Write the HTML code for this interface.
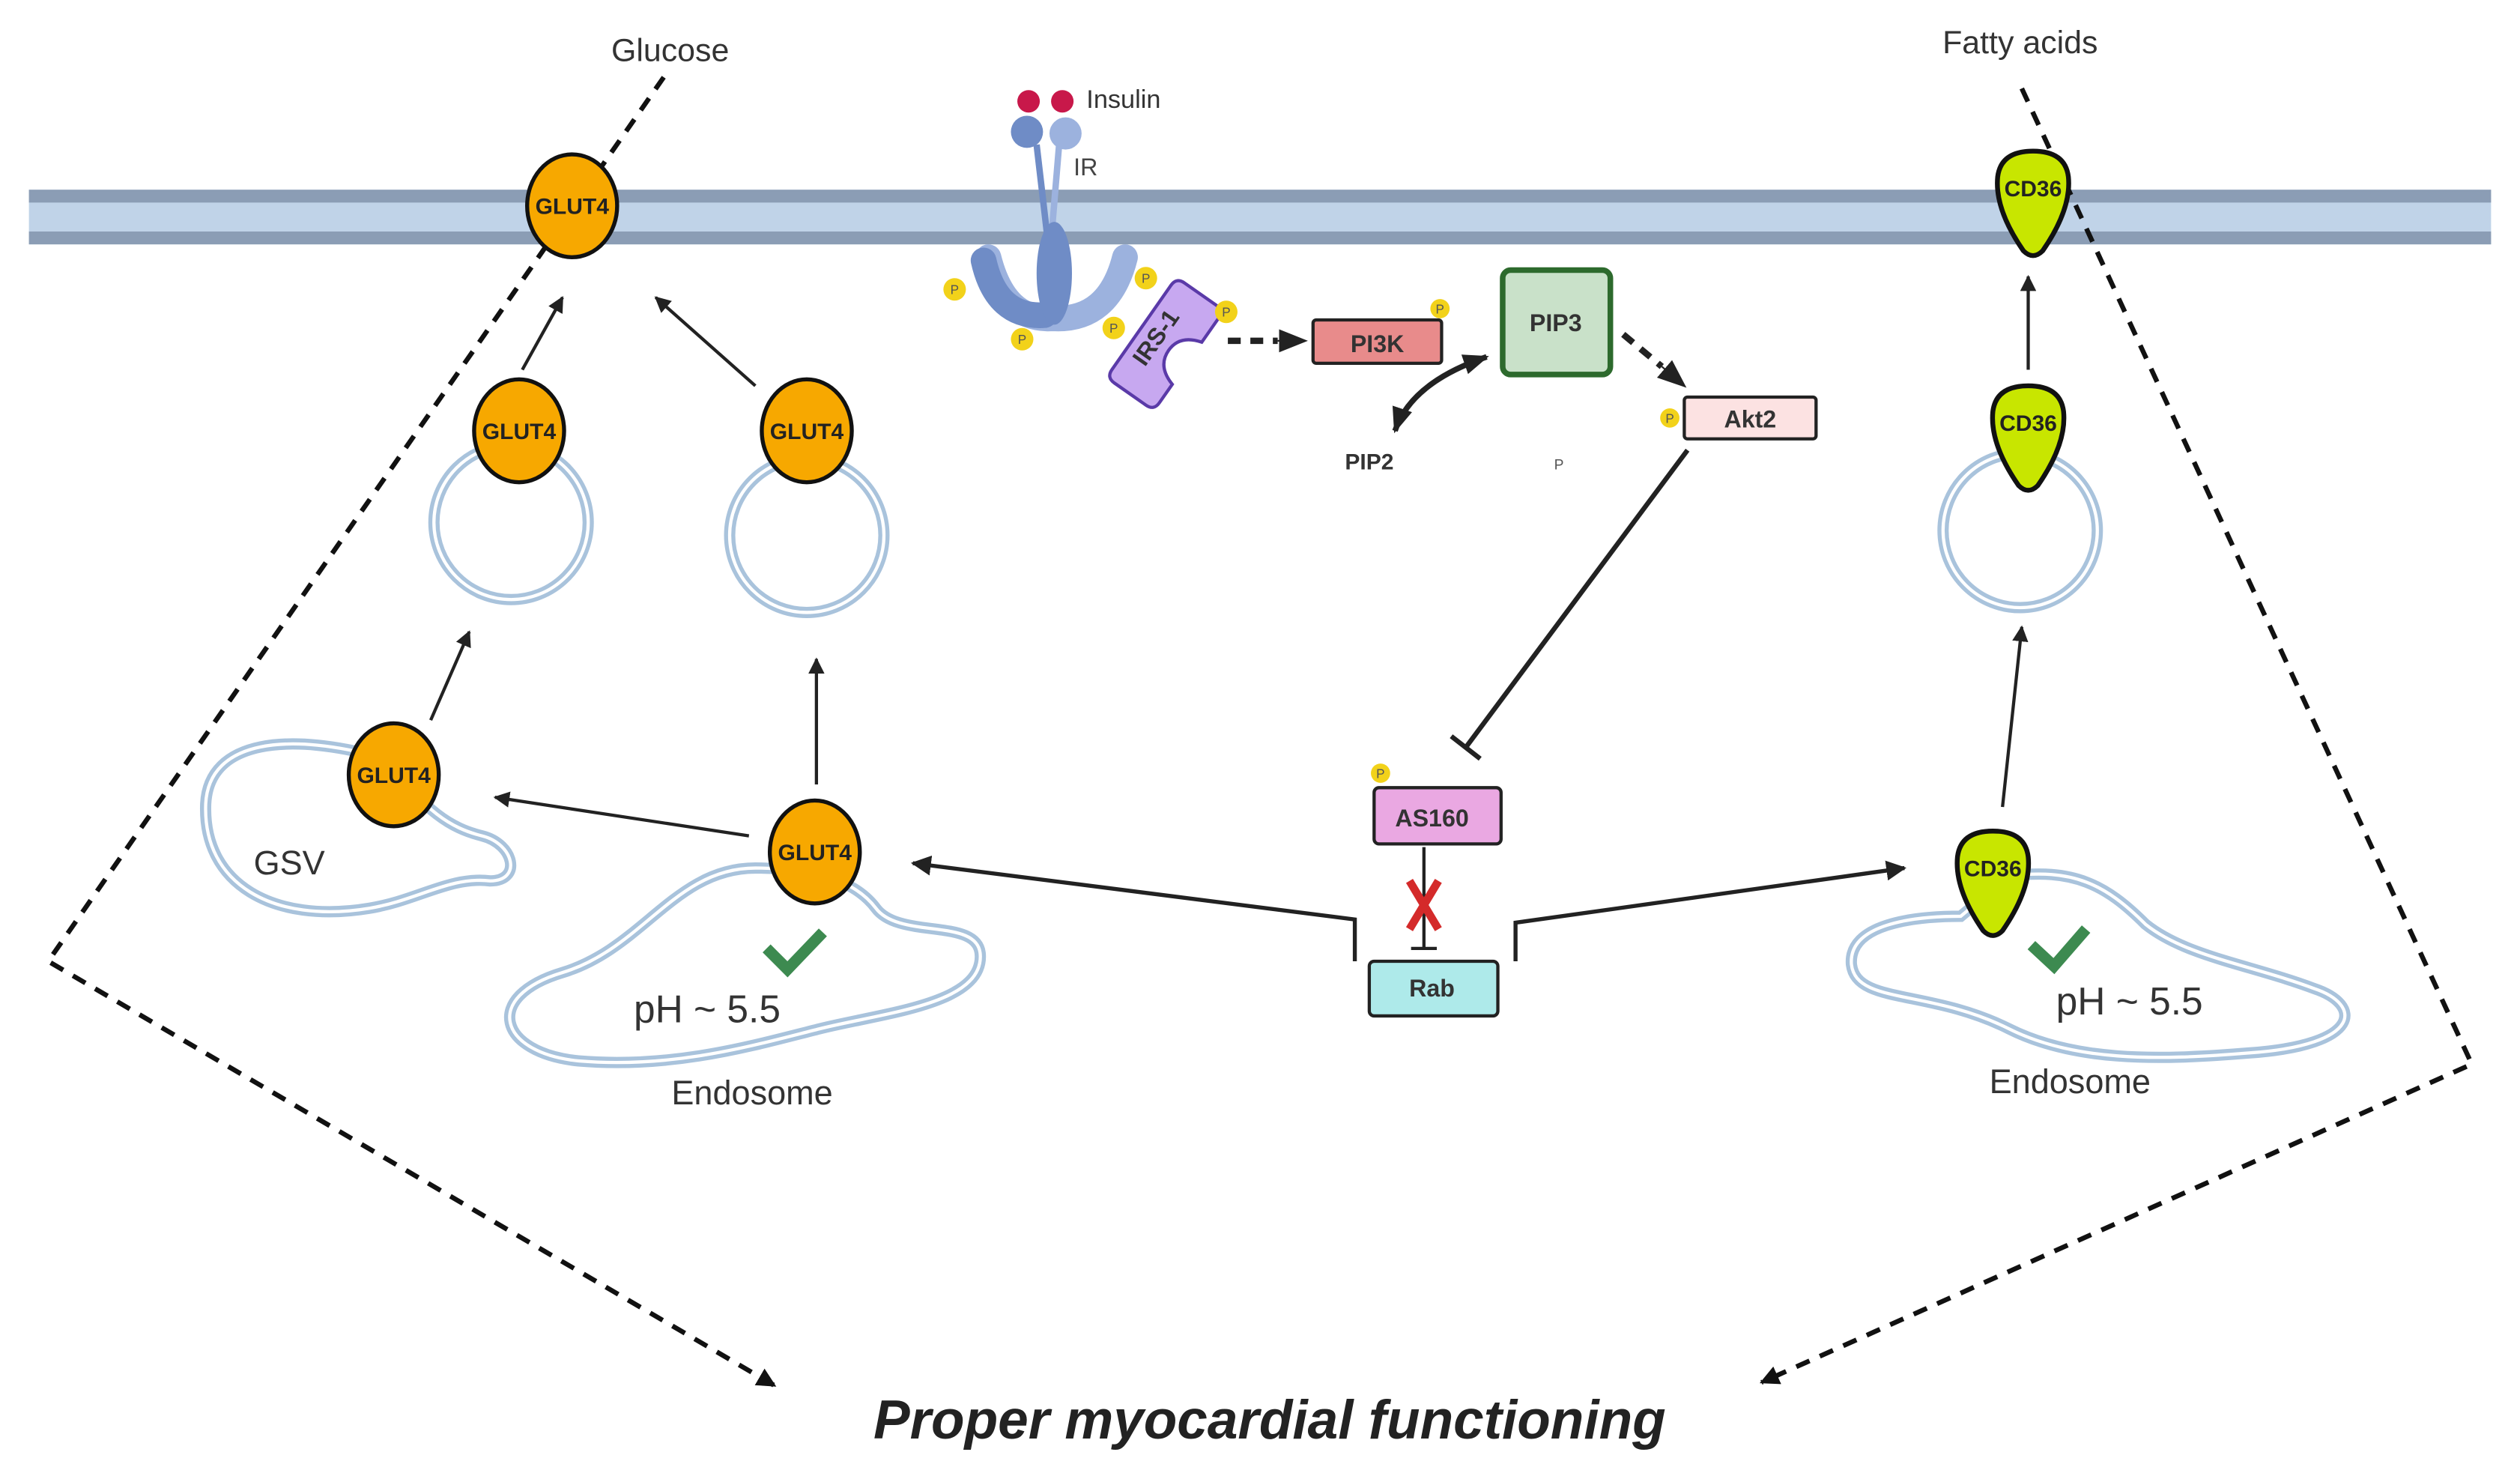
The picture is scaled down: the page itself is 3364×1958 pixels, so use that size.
<!DOCTYPE html>
<html><head><meta charset="utf-8"><style>html,body{margin:0;padding:0;background:#fff}svg{display:block}</style></head>
<body>
<svg width="3364" height="1958" viewBox="0 0 1568 912.6" xmlns="http://www.w3.org/2000/svg" font-family="Liberation Sans, sans-serif">
<defs>
<marker id="ah" viewBox="0 0 10 10" refX="9" refY="5" markerWidth="5" markerHeight="5" orient="auto"><path d="M0,0L10,5L0,10z" fill="#222"/></marker>
<marker id="ahb" viewBox="0 0 10 10" refX="9" refY="5" markerWidth="4" markerHeight="4" orient="auto"><path d="M0,0L10,5L0,10z" fill="#111"/></marker>
<marker id="ahs" viewBox="0 0 10 10" refX="9" refY="5" markerUnits="userSpaceOnUse" markerWidth="18" markerHeight="18" orient="auto"><path d="M0,1L10,5L0,9z" fill="#222"/></marker>
<marker id="ahs2" viewBox="0 0 10 10" refX="9" refY="5" markerUnits="userSpaceOnUse" markerWidth="16" markerHeight="16" orient="auto-start-reverse"><path d="M0,1L10,5L0,9z" fill="#222"/></marker>
<g id="glut"><ellipse cx="0" cy="0" rx="28" ry="32" fill="#f7a800" stroke="#111" stroke-width="2.5"/><text x="0" y="5" font-size="14" font-weight="bold" text-anchor="middle" fill="#222">GLUT4</text></g>
<g id="cd"><path d="M-22,-16 Q-20,-32 0,-32 Q20,-32 22,-16 Q24,4 6,30 Q0,36 -6,30 Q-24,4 -22,-16Z" fill="#c8e600" stroke="#111" stroke-width="3"/><text x="0" y="-4" font-size="14" font-weight="bold" text-anchor="middle" fill="#222">CD36</text></g>
</defs>
<rect x="18" y="118" width="1532" height="34" fill="#c0d3e8"/>
<rect x="18" y="118" width="1532" height="8" fill="#8b9db5"/>
<rect x="18" y="144" width="1532" height="8" fill="#8b9db5"/>
<g fill="none" stroke="#111" stroke-width="3" stroke-dasharray="9,7">
<path d="M413,48 L30,598 L482,862" marker-end="url(#ahb)"/>
<path d="M1258,55 L1538,662 L1096,860" marker-end="url(#ahb)"/>
</g>
<text x="417" y="38" font-size="20" text-anchor="middle" fill="#333">Glucose</text>
<text x="1257" y="33" font-size="20" text-anchor="middle" fill="#333">Fatty acids</text>
<text x="790" y="895" font-size="34" font-weight="bold" font-style="italic" text-anchor="middle" fill="#222">Proper myocardial functioning</text>
<g fill="none" stroke="#a9c3dc" stroke-width="7">
<circle cx="318" cy="325" r="48"/><circle cx="502" cy="333" r="48"/><circle cx="1257" cy="330" r="48"/>
<path d="M240,472 C180,455 130,460 128,500 C126,550 170,575 230,565 C260,560 280,545 305,548 C325,548 320,525 300,520 C280,515 265,505 240,472Z"/>
<path d="M470,540 C420,540 400,590 350,605 C300,620 310,655 360,660 C420,665 470,650 510,640 C550,630 610,625 610,595 C610,570 560,585 545,565 C530,545 500,540 470,540Z"/>
<path d="M1220,570 C1190,570 1150,575 1152,600 C1155,625 1200,615 1250,640 C1290,660 1340,660 1400,655 C1470,650 1470,625 1440,615 C1400,600 1360,595 1335,575 C1310,550 1290,540 1250,545 Z"/>
</g>
<g fill="none" stroke="#fff" stroke-width="2">
<circle cx="318" cy="325" r="48"/><circle cx="502" cy="333" r="48"/><circle cx="1257" cy="330" r="48"/>
<path d="M240,472 C180,455 130,460 128,500 C126,550 170,575 230,565 C260,560 280,545 305,548 C325,548 320,525 300,520 C280,515 265,505 240,472Z"/>
<path d="M470,540 C420,540 400,590 350,605 C300,620 310,655 360,660 C420,665 470,650 510,640 C550,630 610,625 610,595 C610,570 560,585 545,565 C530,545 500,540 470,540Z"/>
<path d="M1220,570 C1190,570 1150,575 1152,600 C1155,625 1200,615 1250,640 C1290,660 1340,660 1400,655 C1470,650 1470,625 1440,615 C1400,600 1360,595 1335,575 C1310,550 1290,540 1250,545 Z"/>
</g>
<g stroke="#222" stroke-width="2" fill="none" marker-end="url(#ah)">
<path d="M325,230 L350,185"/><path d="M470,240 L408,185"/><path d="M268,448 L292,393"/>
<path d="M508,488 L508,410"/><path d="M466,520 L308,496"/>
<path d="M1262,230 L1262,172"/><path d="M1246,502 L1258,390"/>
</g>
<g stroke="#222" stroke-width="2.5" fill="none" marker-end="url(#ah)">
<path d="M843,598 L843,572 L568,537"/><path d="M943,598 L943,574 L1185,540"/>
</g>
<use href="#glut" x="356" y="128"/><use href="#glut" x="323" y="268"/><use href="#glut" x="502" y="268"/>
<use href="#glut" x="245" y="482"/><use href="#glut" x="507" y="530"/>
<use href="#cd" x="1265" y="126"/><use href="#cd" x="1262" y="272"/><use href="#cd" x="1240" y="549"/>
<text x="180" y="544" font-size="21" text-anchor="middle" fill="#333">GSV</text>
<text x="440" y="636" font-size="24" text-anchor="middle" fill="#333">pH ~ 5.5</text>
<text x="468" y="687" font-size="21" text-anchor="middle" fill="#333">Endosome</text>
<text x="1325" y="631" font-size="24" text-anchor="middle" fill="#333">pH ~ 5.5</text>
<text x="1288" y="680" font-size="21" text-anchor="middle" fill="#333">Endosome</text>
<path d="M477,590 L490,603 L512,580" stroke="#3d8a50" stroke-width="7" fill="none"/>
<path d="M1264,588 L1278,601 L1298,578" stroke="#3d8a50" stroke-width="7" fill="none"/>
<circle cx="640" cy="63" r="7" fill="#c8184a"/><circle cx="661" cy="63" r="7" fill="#c8184a"/>
<text x="676" y="67" font-size="16" fill="#333">Insulin</text>
<text x="668" y="109" font-size="15" fill="#444">IR</text>
<circle cx="639" cy="82" r="10" fill="#6f8cc6"/><circle cx="663" cy="83" r="10" fill="#9cb2de"/>
<path d="M645,90 L652,150" stroke="#6f8cc6" stroke-width="4"/><path d="M659,90 L654,150" stroke="#9cb2de" stroke-width="4"/>
<path d="M615,160 Q625,200 655,198 Q690,200 700,160" stroke="#9cb2de" stroke-width="16" fill="none" stroke-linecap="round"/>
<path d="M612,162 Q620,198 650,196" stroke="#6f8cc6" stroke-width="16" fill="none" stroke-linecap="round"/>
<ellipse cx="656" cy="170" rx="11" ry="32" fill="#6f8cc6"/>
<g transform="translate(725,214) rotate(-55)"><path d="M-32,-18 L32,-18 Q38,-18 38,-12 L38,12 Q38,18 32,18 L14,18 Q10,4 -2,4 Q-14,4 -18,18 L-32,18 Q-38,18 -38,12 L-38,-12 Q-38,-18 -32,-18Z" fill="#c7a8f0" stroke="#5a3aa8" stroke-width="2"/><text x="0" y="-2" font-size="15" font-weight="bold" text-anchor="middle" fill="#333">IRS-1</text></g>
<g fill="#f2d21a"><circle cx="594" cy="180" r="7"/><circle cx="636" cy="211" r="7"/><circle cx="713" cy="173" r="7"/><circle cx="693" cy="204" r="7"/><circle cx="763" cy="194" r="7"/><circle cx="896" cy="192" r="6"/><circle cx="1039" cy="260" r="6"/><circle cx="859" cy="481" r="6"/></g>
<g font-size="8" fill="#555" text-anchor="middle"><text x="594" y="183">P</text><text x="636" y="214">P</text><text x="713" y="176">P</text><text x="693" y="207">P</text><text x="763" y="197">P</text><text x="896" y="195">P</text><text x="1039" y="263">P</text><text x="859" y="484">P</text></g>
<path d="M764,212 L795,212" stroke="#222" stroke-width="4" stroke-dasharray="8,6"/>
<path d="M795,212 L812,212" stroke="#222" stroke-width="1" marker-end="url(#ahs)"/>
<rect x="817" y="199" width="80" height="27" rx="2" fill="#e88b8b" stroke="#222" stroke-width="2"/>
<text x="857" y="219" font-size="15" font-weight="bold" text-anchor="middle" fill="#333">PI3K</text>
<rect x="935" y="168" width="67" height="65" rx="5" fill="#c9e1c9" stroke="#2d6a2d" stroke-width="3.5"/>
<text x="968" y="206" font-size="15" font-weight="bold" text-anchor="middle" fill="#333">PIP3</text>
<path d="M868,268 Q878,238 925,222" stroke="#222" stroke-width="3.5" fill="none" marker-end="url(#ahs2)" marker-start="url(#ahs2)"/>
<text x="852" y="292" font-size="14" font-weight="bold" text-anchor="middle" fill="#333">PIP2</text>
<text x="970" y="292" font-size="9" text-anchor="middle" fill="#555">P</text>
<path d="M1010,208 L1034,228" stroke="#222" stroke-width="4" stroke-dasharray="8,6"/>
<path d="M1034,228 L1048,240" stroke="#222" stroke-width="1" marker-end="url(#ahs)"/>
<rect x="1048" y="247" width="82" height="26" rx="2" fill="#fce2e2" stroke="#222" stroke-width="2"/>
<text x="1089" y="266" font-size="15" font-weight="bold" text-anchor="middle" fill="#333">Akt2</text>
<path d="M1050,280 L912,465" stroke="#222" stroke-width="3"/>
<path d="M903,458 L921,472" stroke="#222" stroke-width="3"/>
<rect x="855" y="490" width="79" height="35" rx="3" fill="#eaa8e2" stroke="#222" stroke-width="2"/>
<text x="891" y="514" font-size="15" font-weight="bold" text-anchor="middle" fill="#333">AS160</text>
<path d="M886,527 L886,590 M878,590 L894,590" stroke="#222" stroke-width="2"/>
<path d="M877,548 L895,578 M895,548 L877,578" stroke="#d42a2a" stroke-width="5"/>
<rect x="852" y="598" width="80" height="34" rx="3" fill="#aeeaea" stroke="#222" stroke-width="2"/>
<text x="891" y="620" font-size="15" font-weight="bold" text-anchor="middle" fill="#333">Rab</text>
</svg>
</body></html>
